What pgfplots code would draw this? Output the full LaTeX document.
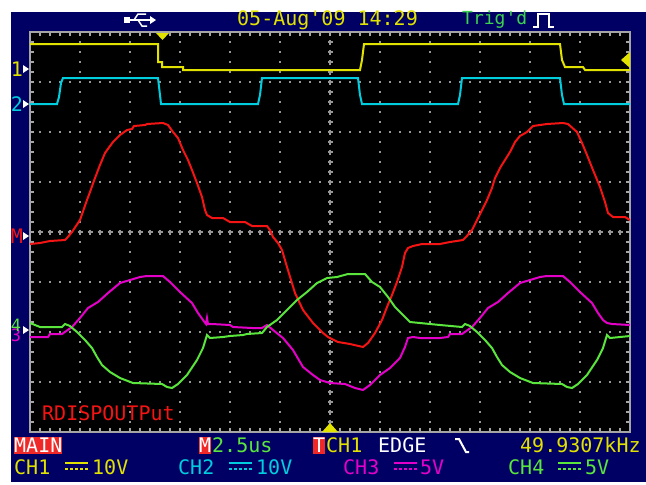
\documentclass[border=0pt]{standalone}
\usepackage{pgfplots}
\pgfplotsset{compat=1.18}
\usepackage{fontspec}
\setmonofont{DejaVu Sans Mono}
\definecolor{navy}{RGB}{0,0,100}
\definecolor{gridc}{RGB}{150,150,150}
\definecolor{bordc}{RGB}{165,165,165}
\definecolor{ch1}{RGB}{226,226,0}
\definecolor{ch2}{RGB}{0,205,222}
\definecolor{chm}{RGB}{245,20,20}
\definecolor{ch3}{RGB}{228,0,200}
\definecolor{ch4}{RGB}{90,230,60}
\definecolor{redbox}{RGB}{240,40,40}
\definecolor{trg}{RGB}{60,210,80}
\begin{document}
\begin{tikzpicture}[x=1pt,y=-1pt,font=\ttfamily\fontsize{20}{20}\selectfont]
\clip (0,0) rectangle (646,485);
\fill[white] (0,0) rectangle (646,485);
\fill[navy] (11,12) rectangle (646,482);
\fill[black] (30,32) rectangle (630,432);
% grid dots
\foreach \x in {80,130,180,230,280,380,430,480,530,580}
  {\draw[gridc,line width=2pt,dash pattern=on 2pt off 8pt,dash phase=1pt] (\x,32) -- (\x,432);}
\foreach \y in {82,132,182,282,332,382}
  {\draw[gridc,line width=2pt,dash pattern=on 2pt off 8pt,dash phase=1pt] (30,\y) -- (630,\y);}
% crosshair
\foreach \i in {1,...,59}
  {\draw[gridc,line width=1.6pt] ({30+10*\i-2.5},232) -- ({30+10*\i+2.5},232) ({30+10*\i},229.5) -- ({30+10*\i},234.5);}
\foreach \j in {1,...,39}
  {\draw[gridc,line width=1.6pt] (327.5,{32+10*\j}) -- (332.5,{32+10*\j}) (330,{32+10*\j-2.5}) -- (330,{32+10*\j+2.5});}
% border ticks
\foreach \i in {1,...,59}
  {\draw[bordc,line width=1.5pt] ({30+10*\i},32) -- ({30+10*\i},36) ({30+10*\i},432) -- ({30+10*\i},428);}
\foreach \j in {1,...,39}
  {\draw[bordc,line width=1.5pt] (30,{32+10*\j}) -- (34,{32+10*\j}) (630,{32+10*\j}) -- (626,{32+10*\j});}
\draw[bordc,line width=2pt] (30,32) rectangle (630,432);

\begin{axis}[at={(30pt,-432pt)},anchor=south west,width=600pt,height=400pt,
  scale only axis,xmin=30,xmax=630,ymin=32,ymax=432,y dir=reverse,hide axis,clip=true]
% CH1
\addplot[ch1,line width=2pt] coordinates {(30,44) (158,44) (158,62) (162,62) (162,67) (183,67) (183,70) (360,70) (362,60) (364,44) (560,44) (562,60) (565,67) (583,67) (585,70) (630,70)};
% CH2
\addplot[ch2,line width=2pt] coordinates {(30,104) (57,104) (59,97) (61,83) (63,78) (158,78) (160,95) (161,104) (258,104) (260,95) (262,78) (358,78) (360,95) (362,104) (458,104) (460,95) (462,78) (560,78) (562,95) (564,104) (630,104)};
% Math
\addplot[chm,line width=2pt] coordinates {(30,244) (40,243) (50,241) (65,240) (67,238) (72,232) (80,220) (87,200) (90,192) (95,178) (100,165) (105,153) (113,142) (120,135) (127,130) (132,129) (134,126) (145,125) (147,124) (163,123) (168,125) (173,132) (178,138) (183,150) (188,160) (192,170) (197,183) (202,197) (205,210) (207,215) (212,218) (223,218) (230,222) (245,222) (252,226) (267,226) (270,230) (273,237) (278,243) (282,250) (287,267) (295,293) (303,310) (313,323) (323,333) (328,337) (338,342) (350,344) (363,347) (368,343) (375,333) (382,320) (387,307) (392,295) (397,282) (402,267) (405,253) (408,248) (413,246) (422,244) (440,244) (450,242) (463,240) (466,237) (472,230) (477,220) (482,210) (487,200) (492,188) (495,178) (500,168) (505,160) (510,152) (515,142) (520,136) (527,132) (533,126) (547,124) (563,123) (568,124) (577,132) (582,143) (587,155) (593,170) (600,187) (605,202) (608,213) (613,217) (625,217) (630,220)};
% CH3
\addplot[ch3,line width=2pt] coordinates {(30,337) (48,337) (50,334) (62,334) (72,327) (80,318) (88,308) (98,302) (108,293) (120,283) (130,280) (140,277) (147,276) (163,276) (170,282) (180,292) (192,303) (198,313) (203,320) (206,324) (207,318) (208,324) (212,324) (230,325) (233,327) (252,328) (262,328) (267,325) (273,330) (283,338) (293,350) (303,367) (313,375) (320,380) (330,383) (345,384) (355,388) (363,390) (370,385) (380,375) (390,368) (400,358) (405,347) (408,338) (413,337) (420,338) (440,338) (448,337) (450,334) (462,334) (472,327) (480,318) (488,308) (498,302) (508,293) (520,283) (530,280) (540,277) (547,276) (563,276) (570,282) (580,292) (592,303) (598,313) (603,320) (607,323) (612,324) (630,325)};
% CH4
\addplot[ch4,line width=2pt] coordinates {(30,323) (40,327) (62,327) (65,324) (70,326) (77,332) (85,340) (92,348) (97,357) (102,365) (110,372) (120,378) (133,383) (162,384) (167,387) (172,388) (178,384) (187,375) (197,360) (203,348) (207,335) (210,338) (223,337) (230,336) (243,335) (247,334) (262,333) (267,327) (277,320) (287,310) (297,300) (307,292) (317,283) (327,278) (337,277) (348,274) (365,274) (372,282) (380,287) (388,297) (395,307) (405,317) (410,322) (420,323) (440,325) (462,327) (465,324) (470,326) (477,332) (485,340) (492,348) (497,357) (502,365) (510,372) (520,378) (533,383) (562,384) (567,387) (572,388) (578,384) (587,375) (597,360) (603,348) (607,335) (610,338) (630,336)};
\end{axis}

% markers
\fill[ch1] (156,33) -- (169,33) -- (162.5,40) -- cycle;
\fill[ch1] (322,432) -- (338,432) -- (330,423) -- cycle;
\fill[ch1] (630,52) -- (630,68) -- (621,60) -- cycle;
\node[text=ch1,anchor=center,inner sep=0] at (17,69) {1};
\node[text=ch2,anchor=center,inner sep=0] at (17,104) {2};
\node[text=chm,anchor=center,inner sep=0] at (17,236) {M};
\node[text=ch3,anchor=center,inner sep=0,font=\ttfamily\fontsize{17}{17}\selectfont] at (16,335) {3};
\node[text=ch4,anchor=center,inner sep=0,font=\ttfamily\fontsize{17}{17}\selectfont] at (16,325) {4};
\foreach \yy in {69,104,236,330}
  {\fill[white] (23,\yy-4) -- (23,\yy+4) -- (29,\yy) -- cycle;}
\node[text=chm,anchor=west,inner sep=0] at (42,413) {RDISPOUTPut};

% top bar
\node[text=ch1,anchor=west,inner sep=0] at (237,20) {05-Aug'09 14:29};
\node[text=trg,anchor=west,inner sep=0,font=\ttfamily\fontsize{18}{18}\selectfont] at (462,20) {Trig'd};
\draw[white,line width=2pt] (533,27) -- (538,27) -- (538,14) -- (549,14) -- (549,27) -- (554,27);
% usb icon
\fill[white] (124,17) rectangle (130,23);
\draw[white,line width=2pt] (130,20) -- (152,20);
\fill[white] (156,20) -- (150,16) -- (150,24) -- cycle;
\draw[white,line width=1.5pt] (134,20) -- (138,14) -- (146,14) (138,20) -- (142,26) -- (147,26);

% bottom bar
\node[fill=redbox,text=white,anchor=west,inner sep=0pt,minimum height=17pt] at (14,445) {MAIN};
\node[fill=redbox,text=white,anchor=west,inner sep=0pt,minimum height=17pt] at (199,445) {M};
\node[text=ch4,anchor=west,inner sep=0] at (212,445) {2.5us};
\node[fill=redbox,text=white,anchor=west,inner sep=0pt,minimum height=17pt] at (313,445) {T};
\node[text=ch1,anchor=west,inner sep=0] at (326,445) {CH1};
\node[text=white,anchor=west,inner sep=0] at (378,445) {EDGE};
\draw[white,line width=2pt] (455,439) -- (459,439) -- (466,452) -- (469,452);
\node[text=ch1,anchor=west,inner sep=0] at (520,445) {49.9307kHz};

\node[text=ch1,anchor=west,inner sep=0] at (14,467) {CH1};
\node[text=ch1,anchor=west,inner sep=0] at (92,467) {10V};
\node[text=ch2,anchor=west,inner sep=0] at (178,467) {CH2};
\node[text=ch2,anchor=west,inner sep=0] at (256,467) {10V};
\node[text=ch3,anchor=west,inner sep=0] at (343,467) {CH3};
\node[text=ch3,anchor=west,inner sep=0] at (420,467) {5V};
\node[text=ch4,anchor=west,inner sep=0] at (508,467) {CH4};
\node[text=ch4,anchor=west,inner sep=0] at (585,467) {5V};
\foreach \xx/\cc in {65/ch1,229/ch2,394/ch3,558/ch4}
  {\draw[\cc,line width=2pt] (\xx,463) -- (\xx+23,463);
   \draw[\cc,line width=2pt,dash pattern=on 3pt off 2pt] (\xx,469) -- (\xx+23,469);}
\path[use as bounding box] (0,0) rectangle (646,485);
\end{tikzpicture}
\end{document}
